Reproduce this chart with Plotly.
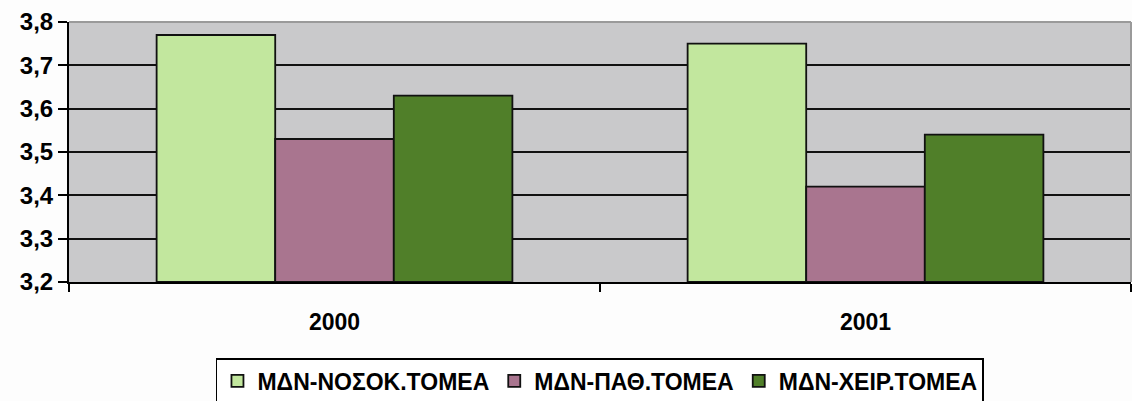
import plotly.graph_objects as go

years = ["2000", "2001"]
series_names = ["ΜΔΝ-ΝΟΣΟΚ.ΤΟΜΕΑ", "ΜΔΝ-ΠΑΘ.ΤΟΜΕΑ", "ΜΔΝ-ΧΕΙΡ.ΤΟΜΕΑ"]
nosok = [3.77, 3.75]
path = [3.53, 3.42]
cheir = [3.63, 3.54]
y_ticks = [3.2, 3.3, 3.4, 3.5, 3.6, 3.7, 3.8]
y_floor = 3.2

colors = ["#c2e79e", "#a9758f", "#507f29"]
font_family = "Liberation Sans, Arial, sans-serif"

fig = go.Figure()
for name, vals, col in zip(series_names, [nosok, path, cheir], colors):
    # bars start at the axis floor, so heights are value minus base
    fig.add_trace(go.Bar(
        name=name, x=years, y=[v - y_floor for v in vals],
        base=y_floor,
        marker=dict(color=col, line=dict(color="#111111", width=1.8)),
        hovertext=[f"{v:.2f}" for v in vals],
    ))

fig.update_layout(
    width=1132, height=401,
    margin=dict(l=69, r=1, t=22, b=119, autoexpand=False),
    paper_bgcolor="#fdfdfd",
    plot_bgcolor="#c9c9cb",
    barmode="group",
    bargap=0.33,
    bargroupgap=0,
    separators=",.",
    showlegend=True,
    legend=dict(
        orientation="h",
        x=0.53, xanchor="center", xref="container",
        y=1 - 358 / 401, yanchor="top", yref="container",
        bordercolor="#000000", borderwidth=1.5,
        bgcolor="#ffffff",
        font=dict(family=font_family, size=23, color="#000000", weight="bold"),
        itemwidth=30,
        tracegroupgap=0,
    ),
    font=dict(family=font_family, color="#000000"),
)

fig.update_xaxes(
    showline=True, linecolor="#000000", linewidth=2,
    ticks="outside", tickson="boundaries", ticklen=8, tickwidth=2, tickcolor="#000000",
    tickfont=dict(family=font_family, size=23, color="#000000", weight="bold"),
    showgrid=False,
    ticklabelstandoff=18,
)
fig.update_yaxes(
    range=[3.2, 3.8],
    tickvals=y_ticks,
    tickformat=".1f",
    showline=True, linecolor="#000000", linewidth=2,
    ticks="outside", ticklen=9, tickwidth=2, tickcolor="#000000",
    tickfont=dict(family=font_family, size=24, color="#000000", weight="bold"),
    showgrid=True, gridcolor="#111111", gridwidth=2,
    zeroline=False,
)

# light frame along the top and right edges of the plot area
fig.add_shape(type="line", xref="paper", yref="paper", x0=0, x1=1, y0=1, y1=1,
              line=dict(color="#9a9a9a", width=2), layer="above")
fig.add_shape(type="line", xref="paper", yref="paper", x0=1, x1=1, y0=0, y1=1,
              line=dict(color="#9a9a9a", width=2), layer="above")

fig.write_html("out.html")
